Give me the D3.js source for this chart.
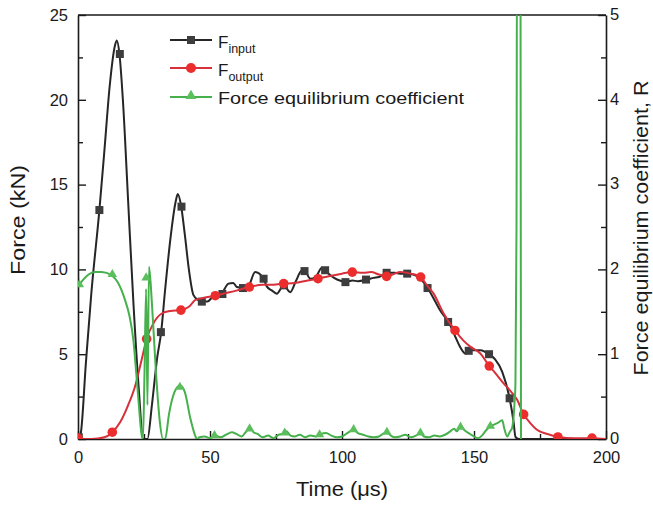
<!DOCTYPE html>
<html><head><meta charset="utf-8">
<script src="https://cdn.jsdelivr.net/npm/d3@7"></script>
<style>body{margin:0;background:#fff}svg{display:block}text{font-family:"Liberation Sans",Arial,Helvetica,sans-serif;fill:#1a1a1a}</style>
</head><body><svg id="c" width="653" height="509"></svg>
<script>
// ---- data ----
const xTicks = [0, 50, 100, 150, 200];
const xMinor = [25, 75, 125, 175];
const yLeftTicks = [0, 5, 10, 15, 20, 25];
const yLeftMinor = [2.5, 7.5, 12.5, 17.5, 22.5];
const yRightTicks = [0, 1, 2, 3, 4, 5];
const yRightMinor = [0.5, 1.5, 2.5, 3.5, 4.5];

const tInput = [0,1,3,5,8.1,10,12,14,14.7,15.7,17,19,21,23,24.7,26.3,28,30,31.5,33,35,37,37.8,39,40.5,42,43.7,45.5,46.9,49,51.2,54,57,58.8,60.2,62.5,64.5,67.1,70.3,71.5,73.4,75.3,77.9,80.4,82.5,84.8,86,88,90,92.4,94.9,97,100,101.3,104,106,109.5,112,114,117,120,122,124.6,127,129.7,132.2,135,137.5,140.4,143,144.5,146.8,148.7,152.4,156.2,158,160.7,163.5,165,165.7,167,200];
const fInput = [0,0.3,4.5,8.5,13.5,17,20.8,23.2,23.5,22.7,20,14,8,3,0,0,2,4.8,6.3,8.8,11.8,14,14.45,13.8,12,10,8.5,8.2,8.1,8.1,8.4,8.5,9.16,9.2,8.96,8.9,9.0,9.84,9.45,9.0,8.76,8.57,9.06,8.66,9.3,9.94,9.9,9.45,9.55,10.1,9.75,9.5,9.3,9.25,9.35,9.3,9.4,9.5,9.55,9.8,9.8,9.75,9.75,9.7,9.45,8.96,8.2,7.5,6.9,6.0,5.5,5.04,5.24,5.24,4.94,4.7,3.96,2.39,1.0,0.13,0,0];
const tInputMarks = [0.3,8.1,15.85,31.4,39.2,46.9,54.7,62.5,70.3,78,85.8,93.6,101.3,109.1,116.9,124.7,132.4,140.2,148,155.7,163.5];
const fInputMarks = [0.1,13.5,22.7,6.3,13.7,8.1,8.55,8.9,9.45,9.06,9.9,9.95,9.25,9.4,9.8,9.75,8.9,6.9,5.2,5.0,2.4];

const tOutput = [0,5,10,13,16,19,21.6,24,26,28.5,31.7,35,39,42,44.5,47,52,56,60,64.9,70,74,77.9,82,87,90.9,95,100,103.9,108,111,114,116.9,120,122,126,129.8,132,134.7,138.5,142.8,146,148.7,152.4,155.8,158,161.3,164,166.4,168.8,171,174,179,182,188,195,200];
const fOutput = [0,0,0.1,0.4,1.0,2.0,3.1,4.6,5.9,6.8,7.4,7.55,7.6,7.8,8.2,8.3,8.45,8.6,8.75,8.96,9.1,9.1,9.16,9.2,9.35,9.45,9.6,9.75,9.84,9.8,9.84,9.7,9.59,9.75,9.84,9.75,9.55,9.1,8.57,7.4,6.4,5.8,5.43,5.04,4.3,3.9,3.27,2.8,2.3,1.45,1.0,0.53,0.24,0.12,0.05,0.05,0];
const tOutputMarks = [0,13,26,39,52,64.9,77.9,90.9,103.9,116.9,129.8,142.8,155.8,168.8,181.8,194.7];
const fOutputMarks = [0.05,0.4,5.9,7.6,8.45,8.96,9.16,9.45,9.84,9.59,9.55,6.4,4.3,1.45,0.12,0.05];

const tR = [0,2,4,6.4,9,12.8,15,17.8,19.5,21,22,22.9,24.1,24.6,25.2,25.8,26.3,26.9,28,29.5,31,32.2,33,34.5,36.5,38.7,40.5,42.5,44.5,45,46,48,50,52,54,56,58.3,60,62,63.5,65.2,66.5,68,70,72,74,76,77.5,79,80.5,82,84,86,88,90,92,94,96,98,100,102,104.4,106,108,110,112,114,115.5,117,118.5,120,122,124,126,128,129.7,131,133,135,137,139,141,142.5,143.5,144.9,146.5,148,150,151.5,153,154.5,156.2,157.5,159,160.7,161.5,162.6,163.5,164.5,165.3,165.7,166.1,166.3,167.6,167.8];
const rValues = [1.8,1.88,1.94,1.97,1.97,1.93,1.85,1.64,1.45,1.16,0.8,0.46,0.05,0,0.8,1.77,0.4,2.03,1.6,0.8,0.2,0,0,0.3,0.55,0.63,0.55,0.25,0.03,0,0.02,0.03,0.01,0.04,0.02,0.05,0.08,0.06,0.03,0.08,0.13,0.08,0.06,0.02,0.04,0.01,0.05,0.06,0.09,0.04,0.03,0.05,0.02,0.04,0.03,0.06,0.07,0.04,0.02,0.03,0.07,0.11,0.07,0.05,0.03,0.02,0.03,0.06,0.08,0.04,0.02,0.03,0.05,0.02,0.04,0.07,0.03,0.02,0.04,0.03,0.05,0.09,0.12,0.09,0.15,0.1,0.07,0.03,0.01,0.04,0.1,0.15,0.17,0.19,0.22,0.12,0.03,0.08,0.14,0.4,0.66,2.5,6,6,0];
const tRMarks = [0.5,13.0,25.8,38.6,51.7,65.0,78.3,91.5,104.4,117,129.7,144.9,156.2];
const rMarks = [1.81,1.93,1.89,0.6,0.03,0.11,0.06,0.04,0.1,0.07,0.06,0.13,0.14];

// ---- chart ----
const svg = d3.select('#c');
const m = {l:78, r:606, t:15, b:439};
const x = d3.scaleLinear().domain([0,200]).range([m.l,m.r]);
const yL = d3.scaleLinear().domain([0,25]).range([m.b,m.t]);
const yR = d3.scaleLinear().domain([0,5]).range([m.b,m.t]);
const fmt = d3.format('d');

svg.append('defs').append('clipPath').attr('id','clip')
  .append('rect').attr('x',m.l).attr('y',m.t).attr('width',m.r-m.l).attr('height',m.b-m.t);

const axisColor = '#1a1a1a';
function styleAxis(g, fs){
  g.selectAll('path.domain').attr('stroke',axisColor).attr('stroke-width',1.6);
  g.selectAll('.tick line').attr('stroke',axisColor).attr('stroke-width',1.4);
  g.selectAll('.tick text').attr('font-size',fs).attr('fill','#1a1a1a')
    .attr('font-family','"Liberation Sans",Arial,sans-serif');
}
// bottom
const gx = svg.append('g').attr('transform',`translate(0,${m.b})`)
  .call(d3.axisBottom(x).tickValues(xTicks).tickFormat(fmt).tickSizeInner(-8).tickSizeOuter(0).tickPadding(12));
styleAxis(gx,'16.5px');
const gxm = svg.append('g').attr('transform',`translate(0,${m.b})`)
  .call(d3.axisBottom(x).tickValues(xMinor).tickSizeInner(-5).tickSizeOuter(0).tickFormat(''));
gxm.select('path.domain').remove(); styleAxis(gxm,'0px');
// left
const gy = svg.append('g').attr('transform',`translate(${m.l},0)`)
  .call(d3.axisLeft(yL).tickValues(yLeftTicks).tickFormat(fmt).tickSizeInner(-8).tickSizeOuter(0).tickPadding(10));
styleAxis(gy,'16.5px');
const gym = svg.append('g').attr('transform',`translate(${m.l},0)`)
  .call(d3.axisLeft(yL).tickValues(yLeftMinor).tickSizeInner(-5).tickSizeOuter(0).tickFormat(''));
gym.select('path.domain').remove(); styleAxis(gym,'0px');
// right
const gr = svg.append('g').attr('transform',`translate(${m.r},0)`)
  .call(d3.axisRight(yR).tickValues(yRightTicks).tickFormat(fmt).tickSizeInner(-8).tickSizeOuter(0).tickPadding(4));
styleAxis(gr,'16.5px');
gr.selectAll('.tick text').attr('dy','0.26em');
const grm = svg.append('g').attr('transform',`translate(${m.r},0)`)
  .call(d3.axisRight(yR).tickValues(yRightMinor).tickSizeInner(-5).tickSizeOuter(0).tickFormat(''));
grm.select('path.domain').remove(); styleAxis(grm,'0px');
// top frame
svg.append('line').attr('x1',m.l).attr('x2',m.r).attr('y1',m.t).attr('y2',m.t)
  .attr('stroke',axisColor).attr('stroke-width',1.6);

// titles
svg.append('text').attr('transform','translate(25,220) rotate(-90)')
  .attr('text-anchor','middle').attr('font-size','21px')
  .attr('textLength',110).attr('lengthAdjust','spacingAndGlyphs').text('Force (kN)');
svg.append('text').attr('x',342).attr('y',496)
  .attr('text-anchor','middle').attr('font-size','20px')
  .attr('textLength',92).attr('lengthAdjust','spacingAndGlyphs').text('Time (\u03bcs)');
svg.append('text').attr('transform','translate(648,228) rotate(-90)')
  .attr('text-anchor','middle').attr('font-size','20px')
  .attr('textLength',295).attr('lengthAdjust','spacingAndGlyphs').text('Force equilibrium coefficient, R');

// series
const colBlack = '#262626', colBlackFill = '#3d3d3d';
const colRedLine = '#d7303a', colRed = '#ec2d2d';
const colGreenLine = '#45b04c', colGreen = '#5cbf5e';

const plot = svg.append('g').attr('clip-path','url(#clip)');
const lineL = d3.line().x(d=>x(d[0])).y(d=>yL(d[1])).curve(d3.curveMonotoneX);
const lineR = d3.line().x(d=>x(d[0])).y(d=>yR(d[1])).curve(d3.curveMonotoneX);

const inPts = d3.zip(tInput, fInput);
const outPts = d3.zip(tOutput, fOutput);
const rPts = d3.zip(tR, rValues);

plot.append('path').datum(inPts).attr('d',lineL).attr('fill','none')
  .attr('stroke',colBlack).attr('stroke-width',2);
plot.selectAll('rect.mi').data(d3.zip(tInputMarks,fInputMarks)).join('rect').attr('class','mi')
  .attr('x',d=>x(d[0])-4).attr('y',d=>yL(d[1])-4).attr('width',8).attr('height',8)
  .attr('fill',colBlackFill);

plot.append('path').datum(outPts).attr('d',lineL).attr('fill','none')
  .attr('stroke',colRedLine).attr('stroke-width',2);
plot.selectAll('circle.mo').data(d3.zip(tOutputMarks,fOutputMarks)).join('circle').attr('class','mo')
  .attr('cx',d=>x(d[0])).attr('cy',d=>yL(d[1])).attr('r',4.8).attr('fill',colRed);

plot.append('path').datum(rPts).attr('d',lineR).attr('fill','none')
  .attr('stroke',colGreenLine).attr('stroke-width',2);
const tri = d3.symbol().type(d3.symbolTriangle).size(38);
plot.selectAll('path.mr').data(d3.zip(tRMarks,rMarks)).join('path').attr('class','mr')
  .attr('transform',d=>`translate(${x(d[0])},${yR(d[1])-1})`).attr('d',tri).attr('fill',colGreen);

// legend
const lg = svg.append('g');
const rows = [
  {y:40, stroke:colBlack, fill:colBlackFill, kind:'sq', main:'F', sub:'input'},
  {y:68, stroke:colRedLine, fill:colRed, kind:'ci', main:'F', sub:'output'},
  {y:97, stroke:colGreenLine, fill:colGreen, kind:'tr', main:'Force equilibrium coefficient', sub:null}
];
rows.forEach(r=>{
  lg.append('line').attr('x1',170).attr('x2',212).attr('y1',r.y).attr('y2',r.y)
    .attr('stroke',r.stroke).attr('stroke-width',2);
  if(r.kind==='sq') lg.append('rect').attr('x',187).attr('y',r.y-4).attr('width',8).attr('height',8).attr('fill',r.fill);
  if(r.kind==='ci') lg.append('circle').attr('cx',191).attr('cy',r.y).attr('r',5).attr('fill',r.fill);
  if(r.kind==='tr') lg.append('path').attr('transform',`translate(191,${r.y-1})`).attr('d',d3.symbol().type(d3.symbolTriangle).size(50)).attr('fill',r.fill);
  if(r.sub){
    const t = lg.append('text').attr('x',218).attr('y',r.y+8).attr('font-size','17px');
    t.append('tspan').text(r.main);
    t.append('tspan').attr('font-size','12.5px').attr('dy',4.5).text(r.sub);
  } else {
    lg.append('text').attr('x',218).attr('y',r.y+6.5).attr('font-size','16px')
      .attr('textLength',246).attr('lengthAdjust','spacingAndGlyphs').text(r.main);
  }
});
</script></body></html>
